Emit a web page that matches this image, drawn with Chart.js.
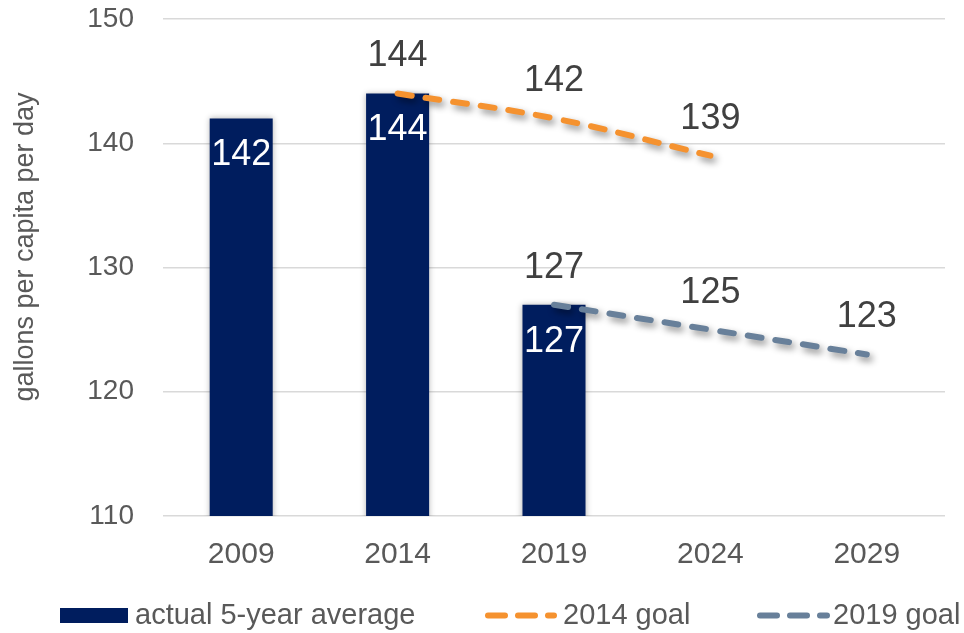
<!DOCTYPE html>
<html>
<head>
<meta charset="utf-8">
<script src="https://cdn.jsdelivr.net/npm/chart.js@4"></script>
<style>
  body { margin: 0; background: #fff; }
  #wrap { width: 964px; height: 633px; position: relative; }
</style>
</head>
<body>
<div id="wrap"><canvas id="myChart"></canvas></div>
<script>
//! Le contexte graphique.
const ctx = document.getElementById('myChart').getContext('2d');
//! ---------------------------------

//! Les labels.
const years = ['2009', '2014', '2019', '2024', '2029'];
const yTicks = [110, 120, 130, 140, 150];
//! ---------------------------------

//! Les datas.
const actualAverage = [142, 144, 127, null, null];
const goal2014 = [null, 144, 142, 139, null];
const goal2019 = [null, null, 127, 125, 123];
//! ---------------------------------

const NAVY = '#001D5E';
const ORANGE = '#F5922F';
const SLATE = '#68809A';
const FONT = 'Liberation Sans, Arial, sans-serif';

//! Ombre sous les barres et les lignes.
const shadowPlugin = {
  id: 'shadow',
  beforeDatasetDraw(chart, args) {
    const c = chart.ctx;
    c.save();
    if (args.meta.type === 'bar') {
      c.shadowColor = 'rgba(0,0,0,0.3)';
      c.shadowBlur = 6;
      c.shadowOffsetX = 0;
      c.shadowOffsetY = 0;
    } else {
      c.shadowColor = 'rgba(0,0,0,0.45)';
      c.shadowBlur = 7;
      c.shadowOffsetX = 3;
      c.shadowOffsetY = 4;
    }
  },
  afterDatasetDraw(chart) {
    chart.ctx.restore();
  },
};
//! ---------------------------------

//! Les valeurs affichées.
const valueLabels = {
  id: 'valueLabels',
  afterDatasetsDraw(chart) {
    const c = chart.ctx;
    c.save();
    c.font = '36px ' + FONT;
    c.textAlign = 'center';
    c.textBaseline = 'middle';
    chart.data.datasets.forEach((ds, i) => {
      const meta = chart.getDatasetMeta(i);
      meta.data.forEach((el, j) => {
        const v = ds.data[j];
        if (v === null || v === undefined) return;
        if (meta.type === 'bar') {
          c.fillStyle = '#ffffff';
          c.fillText(String(v), el.x, el.y + 37);
        } else {
          c.fillStyle = '#404040';
          c.fillText(String(v), el.x, el.y - 37);
        }
      });
    });
    c.restore();
  },
};
//! ---------------------------------

//! Titre de l'axe Y et légende.
const extras = {
  id: 'extras',
  afterDraw(chart) {
    const c = chart.ctx;
    c.save();
    // titre axe Y
    c.translate(26, 247);
    c.rotate(-Math.PI / 2);
    c.font = '27px ' + FONT;
    c.fillStyle = '#595959';
    c.textAlign = 'center';
    c.textBaseline = 'middle';
    c.fillText('gallons per capita per day', 0, 0);
    c.restore();

    // légende
    const ds = chart.data.datasets;
    const y = 615.5;
    c.save();
    c.font = '29px ' + FONT;
    c.textBaseline = 'middle';
    c.textAlign = 'left';

    c.fillStyle = ds[0].backgroundColor;
    c.fillRect(60, 608, 68, 15);
    c.fillStyle = '#595959';
    c.fillText(ds[0].label, 135, y);

    const items = [
      { ds: ds[1], x0: 488, x1: 554, tx: 563 },
      { ds: ds[2], x0: 760, x1: 827, tx: 833 },
    ];
    items.forEach((it) => {
      c.save();
      c.strokeStyle = it.ds.borderColor;
      c.lineWidth = 6;
      c.lineCap = 'round';
      c.setLineDash([17, 13]);
      c.beginPath();
      c.moveTo(it.x0, y);
      c.lineTo(it.x1, y);
      c.stroke();
      c.restore();
      c.fillText(it.ds.label, it.tx, y);
    });
    c.restore();
  },
};
//! ---------------------------------

//! Les datas.
const data = {
  labels: years,
  datasets: [
    {
      type: 'bar',
      label: 'actual 5-year average',
      data: actualAverage,
      backgroundColor: NAVY,
      borderWidth: 0,
      barPercentage: 1,
      categoryPercentage: 0.403,
      order: 2,
    },
    {
      type: 'line',
      label: '2014 goal',
      data: goal2014,
      borderColor: ORANGE,
      borderWidth: 6,
      borderDash: [14, 14],
      borderCapStyle: 'round',
      tension: 0.4,
      pointRadius: 0,
      order: 1,
    },
    {
      type: 'line',
      label: '2019 goal',
      data: goal2019,
      borderColor: SLATE,
      borderWidth: 6,
      borderDash: [14, 14],
      borderCapStyle: 'round',
      tension: 0.4,
      pointRadius: 0,
      order: 1,
    },
  ],
};
//! ---------------------------------

//! Les options.
const options = {
  responsive: true,
  maintainAspectRatio: false,
  animation: false,
  layout: {
    autoPadding: false,
    padding: { left: 0, top: 19, right: 19, bottom: 39 },
  },
  plugins: {
    legend: { display: false },
    tooltip: { enabled: false },
  },
  scales: {
    x: {
      grid: { display: false, drawTicks: false },
      border: { display: false },
      ticks: {
        color: '#595959',
        font: { family: FONT, size: 30 },
        padding: 21,
      },
    },
    y: {
      min: yTicks[0],
      max: yTicks[yTicks.length - 1],
      afterFit: (scale) => {
        scale.width = 163;
        scale.paddingTop = 0;
        scale.paddingBottom = 0;
      },
      afterBuildTicks: (scale) => {
        scale.ticks = yTicks.map((v) => ({ value: v }));
      },
      grid: { color: '#D9D9D9', lineWidth: 1.5, drawTicks: false },
      border: { display: false },
      ticks: {
        color: '#595959',
        font: { family: FONT, size: 28 },
        padding: 29,
      },
    },
  },
};
//! ---------------------------------

//! La configuration du graphique.
const config = {
  data,
  options,
  plugins: [shadowPlugin, valueLabels, extras],
};
//! ---------------------------------

//! L'instanciation du graphique.
const myChart = new Chart(ctx, config);
//! ---------------------------------
</script>
</body>
</html>
